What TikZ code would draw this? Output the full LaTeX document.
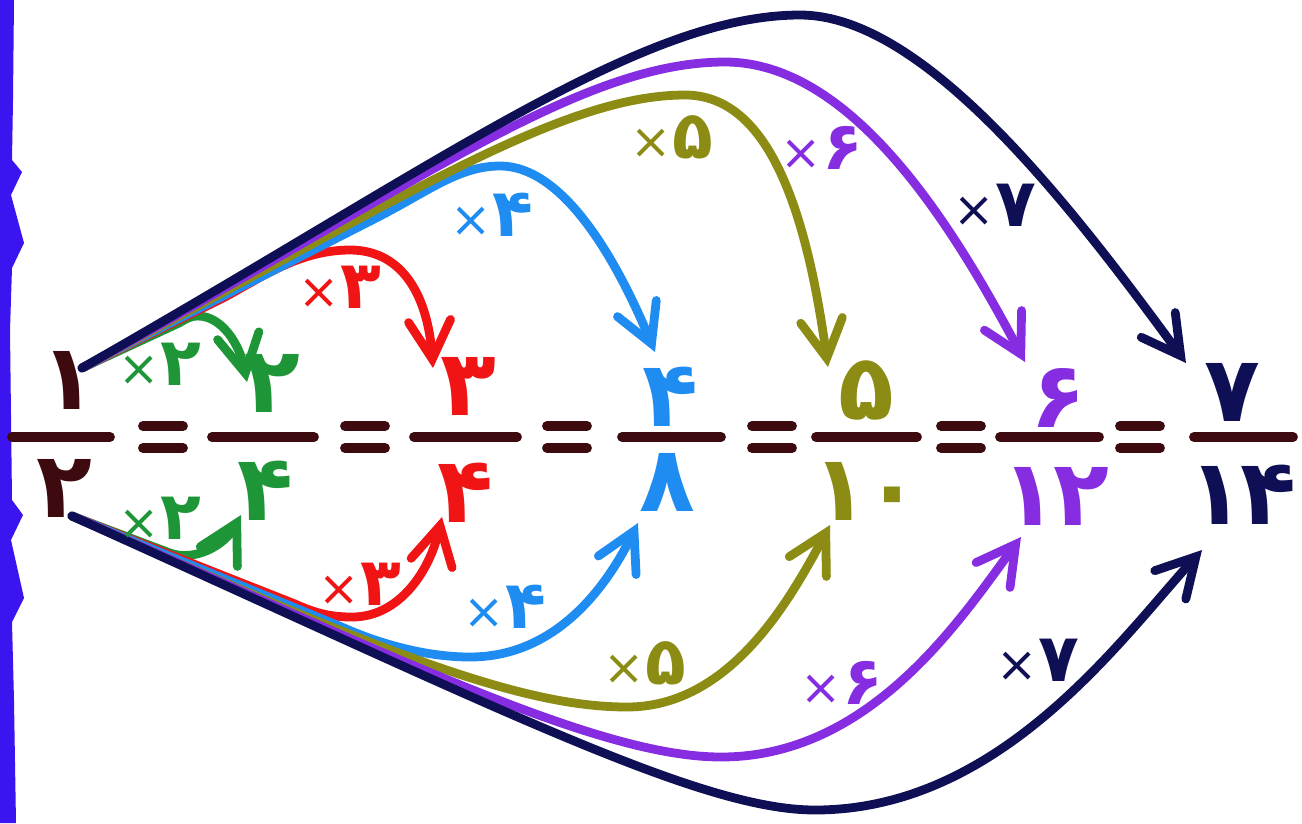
\documentclass[tikz,border=0pt]{standalone}
\usepackage{fontspec}
\usetikzlibrary{arrows.meta}
\newfontfamily\fafont[Script=Arabic,LetterSpace=-4]{DejaVu Sans}
\definecolor{barcol}{RGB}{60,10,15}
\definecolor{grn}{RGB}{30,150,55}
\definecolor{rd}{RGB}{240,20,20}
\definecolor{blu}{RGB}{30,140,240}
\definecolor{olv}{RGB}{140,140,20}
\definecolor{prp}{RGB}{135,45,225}
\definecolor{nvy}{RGB}{15,15,85}
\definecolor{edge}{RGB}{60,20,240}
\newcommand{\fr}[1]{{\fafont\bfseries\fontsize{26}{26}\selectfont #1}}
\newcommand{\by}[1]{{\fafont\hbox{\fontsize{14}{14}\selectfont ×}\hbox{\bfseries\fontsize{19}{19}\selectfont #1}}}

\begin{document}
\begin{tikzpicture}[x=0.01cm,y=-0.01cm,
	bar/.style={line width=2.8pt,line cap=round,barcol},
	dig/.style={inner sep=0pt},
	mul/.style={line width=2.5pt,line cap=round,line join=round,-{Straight Barb[length=3.8mm,width=4.2mm,line cap=round]}}]
	\useasboundingbox (0,0) rectangle (1302,823);
	% ragged edge on the left
	\fill[edge] (0,0) -- (14,0) -- (13,100) -- (12,160) -- (22,172) -- (11,195) -- (24,243) -- (12,268)
		-- (10,330) -- (12,500) -- (23,515) -- (11,540) -- (24,598) -- (12,622) -- (14,700) -- (16,823) -- (0,823) -- cycle;
	% fraction bars and equals signs
	\draw[bar] (12,437) -- (110,437);   \draw[bar] (212,437) -- (314,437);
	\draw[bar] (414,437) -- (517,437);  \draw[bar] (622,437) -- (721,437);
	\draw[bar] (816,437) -- (917,437);  \draw[bar] (1000,437) -- (1099,437);
	\draw[bar] (1194,437) -- (1293,437);
	\foreach \x in {163,365,567,772,961,1140}{
		\draw[bar] (\x-20,426) -- (\x+20,426);
		\draw[bar] (\x-20,448) -- (\x+20,448);
	}
	% numerators and denominators
	\node[dig,barcol] (n1) at (68,380) {\fr{۱}};   \node[dig,barcol] (d1) at (64,488) {\fr{۲}};
	\node[dig,grn] (n2) at (272,383) {\fr{۲}};     \node[dig,grn] (d2) at (265,491) {\fr{۴}};
	\node[dig,rd] (n3) at (468,386) {\fr{۳}};      \node[dig,rd] (d3) at (465,493) {\fr{۴}};
	\node[dig,blu] (n4) at (670,397) {\fr{۴}};     \node[dig,blu] (d4) at (667,482) {\fr{۸}};
	\node[dig,olv] (n5) at (866,390) {\fr{۵}};     \node[dig,olv] (d5) at (866,491) {\fr{۱۰}};
	\node[dig,prp] (n6) at (1058,398) {\fr{۶}};    \node[dig,prp] (d6) at (1055,496) {\fr{۱۲}};
	\node[dig,nvy] (n7) at (1232,392) {\fr{۷}};    \node[dig,nvy] (d7) at (1242,495) {\fr{۱۴}};
	% start points and arrow tips
	\coordinate (s) at (82,368);
	\coordinate (t) at (72,516);
	\coordinate (a2) at ([shift={(-25,-1)}]n2.center);   \coordinate (b2) at ([shift={(-24,24)}]d2.center);
	\coordinate (a3) at ([shift={(-35,-18)}]n3.center);  \coordinate (b3) at ([shift={(-23,24)}]d3.center);
	\coordinate (a4) at ([shift={(-15,-45)}]n4.center);  \coordinate (b4) at ([shift={(-29,41)}]d4.center);
	\coordinate (a5) at ([shift={(-38,-23)}]n5.center);  \coordinate (b5) at ([shift={(-36,34)}]d5.center);
	\coordinate (a6) at ([shift={(-33,-36)}]n6.center);  \coordinate (b6) at ([shift={(-34,41)}]d6.center);
	\coordinate (a7) at ([shift={(-46,-29)}]n7.center);  \coordinate (b7) at ([shift={(-40,55)}]d7.center);
	% upper arrows
	\draw[mul,grn] (s) -- (179,323) .. controls (186,319) and (190,316) .. (198,316) .. controls (222,316) and (240,345) .. (a2);
	\draw[mul,rd] (s) -- (225,297) .. controls (262,277) and (300,250) .. (350,250) .. controls (405,250) and (428,300) .. (a3);
	\draw[mul,blu] (s) -- (380,216) .. controls (430,190) and (460,166) .. (500,166) .. controls (570,166) and (625,280) .. (a4);
	\draw[mul,olv] (s) .. controls (400,200) and (560,95) .. (685,95) .. controls (765,95) and (805,200) .. (a5);
	\draw[mul,prp] (s) .. controls (420,183) and (580,62) .. (725,62) .. controls (850,62) and (950,220) .. (a6);
	\draw[mul,nvy] (s) .. controls (440,164) and (640,15) .. (800,15) .. controls (920,15) and (1060,190) .. (a7);
	% lower arrows
	\draw[mul,grn] (t) -- (170,553) .. controls (195,562) and (225,545) .. (b2);
	\draw[mul,rd] (t) -- (295,604) .. controls (315,613) and (330,617) .. (352,617) .. controls (400,617) and (430,570) .. (b3);
	\draw[mul,blu] (t) -- (344,628) .. controls (385,646) and (430,657) .. (470,657) .. controls (560,657) and (610,580) .. (b4);
	\draw[mul,olv] (t) .. controls (380,652) and (520,707) .. (627,707) .. controls (730,707) and (790,600) .. (b5);
	\draw[mul,prp] (t) .. controls (400,660) and (600,757) .. (721,757) .. controls (870,757) and (960,620) .. (b6);
	\draw[mul,nvy] (t) .. controls (500,709) and (700,810) .. (815,810) .. controls (1000,810) and (1120,640) .. (b7);
	% multipliers
	\node[dig,grn] (m2) at (160,364) {\by{۲}};   \node[dig,grn] (k2) at (160,518) {\by{۲}};
	\node[dig,rd] (m3) at (340,287) {\by{۳}};    \node[dig,rd] (k3) at (360,584) {\by{۳}};
	\node[dig,blu] (m4) at (492,215) {\by{۴}};   \node[dig,blu] (k4) at (505,607) {\by{۴}};
	\node[dig,olv] (m5) at (672,137) {\by{۵}};   \node[dig,olv] (k5) at (645,663) {\by{۵}};
	\node[dig,prp] (m6) at (822,148) {\by{۶}};   \node[dig,prp] (k6) at (842,683) {\by{۶}};
	\node[dig,nvy] (m7) at (995,205) {\by{۷}};   \node[dig,nvy] (k7) at (1038,660) {\by{۷}};
\end{tikzpicture}
\end{document}
